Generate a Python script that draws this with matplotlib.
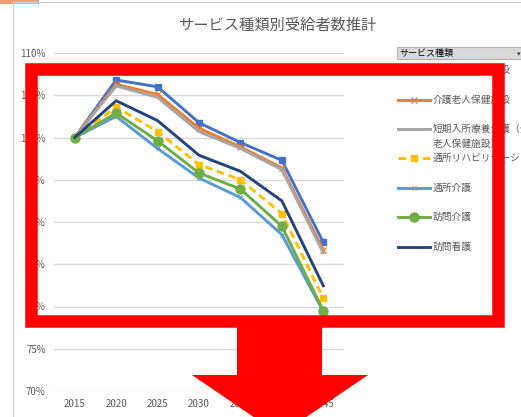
import numpy as np
import matplotlib
matplotlib.use("Agg")
import matplotlib.pyplot as plt
from matplotlib.patches import Rectangle, Polygon
from matplotlib.lines import Line2D
from matplotlib.ticker import FuncFormatter

plt.rcParams['font.family'] = ['Noto Sans CJK JP', 'DejaVu Sans']

# data (ratio to 2015)
years = ['2015', '2020', '2025', '2030', '2035', '2040', '2045']
names = ['介護老人福祉施設', '介護老人保健施設', '短期入所療養介護（介護\n老人保健施設）',
         '通所リハビリテーション', '通所介護', '訪問介護', '訪問看護']
fukushi = [1.000, 1.068, 1.060, 1.0175, 0.994, 0.973, 0.876]
hoken = [1.000, 1.063, 1.051, 1.011, 0.989, 0.964, 0.867]
tanki = [1.000, 1.061, 1.0475, 1.007, 0.987, 0.962, 0.8635]
tsusho_reha = [1.000, 1.036, 1.007, 0.968, 0.950, 0.910, 0.810]
tsusho = [1.000, 1.025, 0.987, 0.952, 0.929, 0.885, 0.794]
homon_kaigo = [1.000, 1.029, 0.996, 0.958, 0.939, 0.895, 0.795]
homon_kango = [1.000, 1.0435, 1.020, 0.979, 0.960, 0.925, 0.8245]
series = [fukushi, hoken, tanki, tsusho_reha, tsusho, homon_kaigo, homon_kango]

styles = [
    dict(color='#4472C4', marker='s', ms=4.5, ls='-'),
    dict(color='#ED7D31', marker='x', ms=4, mew=1, ls='-'),
    dict(color='#A5A5A5', marker='', ls='-'),
    dict(color='#FFC000', marker='s', ms=4.5, ls=(0, (2.6, 1.6))),
    dict(color='#5B9BD5', marker='x', ms=3.5, mew=0.8, ls='-'),
    dict(color='#70AD47', marker='o', ms=6.5, ls='-'),
    dict(color='#264478', marker='', ls='-'),
]

W, H = 521, 417
fig = plt.figure(figsize=(W / 100, H / 100), dpi=100)
fig.patch.set_facecolor('white')

def fx(px):
    return px / W

def fy(py):
    return 1 - py / H

ax = fig.add_axes([fx(54), fy(391), fx(344) - fx(54), fy(53) - fy(391)])
x = np.arange(len(years))
for vals, st in zip(series, styles):
    ax.plot(x, vals, lw=2.1, **st)

ax.set_xlim(-0.5, len(years) - 0.5)
ax.set_ylim(0.70, 1.10)
ax.set_yticks(np.arange(0.70, 1.101, 0.05))
ax.yaxis.set_major_formatter(FuncFormatter(lambda v, p: f'{v * 100:.0f}%'))
ax.set_xticks(x)
ax.set_xticklabels(years)
ax.grid(axis='y', color='#D9D9D9', lw=1)
ax.set_axisbelow(True)
for s in ax.spines.values():
    s.set_visible(False)
ax.tick_params(length=0, labelsize=7, colors='#595959', pad=6)

fig.text(fx(277), fy(25), 'サービス種類別受給者数推計', ha='center', va='center',
         fontsize=11, color='#595959')

# legend on the right, drawn by hand like the Excel layout
leg_y = [70, 100, 129, 158, 188, 217, 247]
for name, st, yy in zip(names, styles, leg_y):
    line_st = {k: v for k, v in st.items() if k not in ('marker', 'ms', 'mew')}
    fig.add_artist(Line2D([fx(398), fx(430)], [fy(yy), fy(yy)],
                          transform=fig.transFigure, lw=2.1, **line_st))
    if st['marker']:
        fig.add_artist(Line2D([fx(414)], [fy(yy)], transform=fig.transFigure,
                              color=st['color'], marker=st['marker'],
                              ms=st.get('ms', 4), mew=st.get('mew', 1), ls=''))
    for i, part in enumerate(name.split('\n')):
        fig.text(fx(433), fy(yy + 15 * i), part, ha='left', va='center',
                 fontsize=7, color='#595959')

# overlay: frame, selection, dropdown, red box and arrow
ov = fig.add_axes([0, 0, 1, 1], zorder=10)
ov.set_xlim(0, W)
ov.set_ylim(H, 0)
ov.axis('off')
ov.patch.set_alpha(0)
ov.plot([13, 13], [2, H], color='#D0D0D0', lw=1)
ov.plot([13, W], [2, 2], color='#D0D0D0', lw=1)
ov.add_patch(Rectangle((0, 0), 39, 4, color='#F0A070', lw=0))
ov.add_patch(Rectangle((397, 47), 130, 12, facecolor='#D9D9D9', edgecolor='#B0B0B0', lw=0.8))
ov.text(399, 53, 'サービス種類', fontsize=6.5, va='center', ha='left', color='#000000')
ov.text(519, 54, '▾', fontsize=5, va='center', ha='center', color='#404040')

ov.add_patch(Rectangle((31, 69), 467, 252, fill=False, edgecolor='#FF0000', lw=9, joinstyle='miter'))
ov.add_patch(Polygon([(237, 321), (322, 321), (322, 375), (368, 375), (280, 435),
                      (192, 375), (237, 375)], closed=True, color='#FF0000', lw=0))

fig.savefig('out.png', dpi=100)
